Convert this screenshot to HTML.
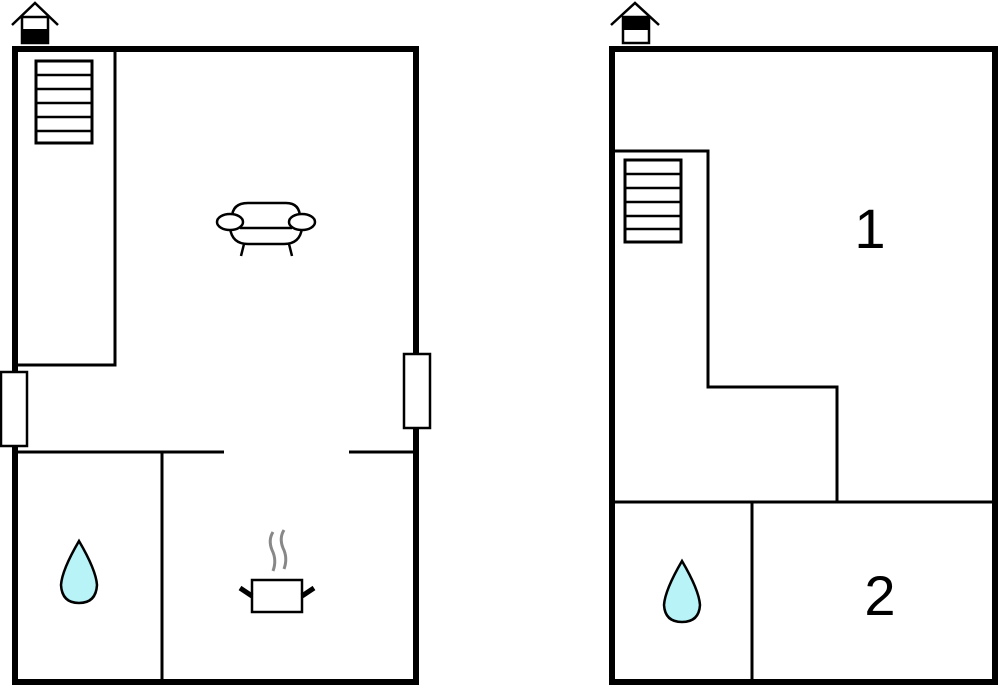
<!DOCTYPE html>
<html><head><style>body{margin:0;background:#fff}svg{display:block}</style></head><body>
<svg width="1000" height="685" viewBox="0 0 1000 685" xmlns="http://www.w3.org/2000/svg" font-family="Liberation Sans, sans-serif">
<g fill="none" stroke="#000">
<path d="M15,685 V49 H416 V685" stroke-width="6"/>
<path d="M15,682 H416" stroke-width="6"/>
<path d="M15,365 H115 V49" stroke-width="3"/>
<path d="M15,452 H224 M349,452 H416 M162,452 V685" stroke-width="3"/>
<rect x="36" y="61" width="56" height="82" stroke-width="3"/>
<path d="M36,75 H92 M36,89 H92 M36,103 H92 M36,117 H92 M36,131 H92" stroke-width="2.5"/>
<rect x="1" y="372" width="26" height="74" fill="#fff" stroke-width="2.5"/>
<rect x="404" y="354" width="26" height="74" fill="#fff" stroke-width="2.5"/>
<path d="M612,685 V49 H995 V685" stroke-width="6"/>
<path d="M612,682 H995" stroke-width="6"/>
<path d="M612,151 H708 V387 H837 V502" stroke-width="3"/>
<path d="M612,502 H995 M752,502 V685" stroke-width="3"/>
<rect x="625" y="160" width="56" height="82" stroke-width="3"/>
<path d="M625,174 H681 M625,188 H681 M625,202 H681 M625,216 H681 M625,229 H681" stroke-width="2.5"/>
</g>
<g stroke="#000" stroke-width="2.5" fill="none">
<path d="M12,25 L35,3 L58,25"/>
<rect x="22" y="17" width="26" height="26" fill="#fff"/>
<path d="M611,25 L635,3 L659,25"/>
<rect x="623" y="17" width="26" height="26" fill="#fff"/>
</g>
<rect x="21" y="29" width="28" height="15" fill="#000"/>
<rect x="622" y="16" width="28" height="14" fill="#000"/>
<g stroke="#000" stroke-width="2.5" fill="#fff">
<path d="M232,218 Q232,203 248,203 H286 Q300,203 300,218"/>
<path d="M230,228 Q232,244 248,244 H284 Q300,244 302,228"/>
<path d="M240,228 H292"/>
<ellipse cx="230" cy="222" rx="13" ry="8"/>
<ellipse cx="302" cy="222" rx="13" ry="8"/>
<path d="M244,244 L241,256 M289,244 L292,256"/>
</g>
<g stroke="#888" stroke-width="3" fill="none">
<path d="M273,532 Q268,540 272,550 Q277,560 273,571"/>
<path d="M284,530 Q279,538 283,548 Q288,558 284,569"/>
</g>
<g stroke="#000">
<rect x="252" y="580" width="50" height="32" fill="#fff" stroke-width="2.5"/>
<path d="M240,588 L252,596 M314,588 L302,596" stroke-width="5"/>
</g>
<path d="M79,541 Q62,570 61,585 Q62,603 79,603 Q96,603 97,585 Q96,570 79,541 Z" fill="#b7f3f7" stroke="#000" stroke-width="2.5"/>
<path d="M682,561 Q665,590 664,605 Q665,622 682,622 Q699,622 700,605 Q699,590 682,561 Z" fill="#b7f3f7" stroke="#000" stroke-width="2.5"/>
<text x="870" y="248" font-size="56" text-anchor="middle">1</text>
<text x="880" y="615" font-size="56" text-anchor="middle">2</text>
</svg>
</body></html>
